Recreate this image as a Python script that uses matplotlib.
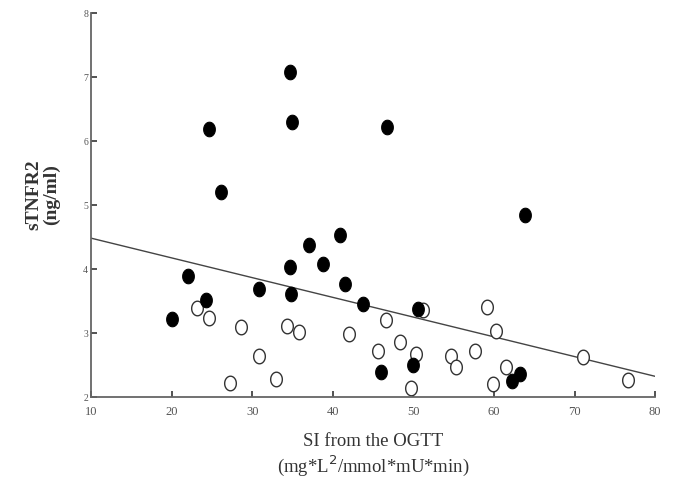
import numpy as np
import matplotlib
matplotlib.use("Agg")
import matplotlib.pyplot as plt
from matplotlib.path import Path

# Points pleins
filled_x = [20.1, 22.0, 24.7, 24.3, 26.1, 30.8, 34.7, 34.8, 34.7, 35.0, 37.1, 38.8,
            40.9, 41.5, 43.7, 46.7, 46.0, 50.0, 50.6, 62.2, 63.2, 63.8]
filled_y = [3.22, 3.89, 6.19, 3.52, 5.20, 3.69, 4.03, 3.61, 7.08, 6.30, 4.38, 4.08,
            4.53, 3.77, 3.45, 6.22, 2.39, 2.50, 3.38, 2.25, 2.36, 4.84]

# Points vides
open_x = [23.1, 24.7, 28.6, 30.8, 27.3, 32.9, 34.3, 35.8, 42.0, 45.6, 46.6, 48.4,
          50.3, 49.7, 51.2, 54.7, 55.3, 57.6, 59.1, 60.3, 61.5, 59.9, 71.0, 76.6]
open_y = [3.39, 3.23, 3.09, 2.64, 2.22, 2.28, 3.11, 3.02, 2.98, 2.72, 3.20, 2.86,
          2.67, 2.13, 3.35, 2.64, 2.47, 2.72, 3.41, 3.03, 2.47, 2.20, 2.62, 2.27]

# Droite de regression
fit_x = [10, 80]
fit_y = [4.48, 2.32]

xticks = [10, 20, 30, 40, 50, 60, 70, 80]
yticks = [2, 3, 4, 5, 6, 7, 8]

plt.rcParams['font.family'] = ['Liberation Serif', 'DejaVu Serif']

# marqueur elliptique (un peu plus haut que large)
t = np.linspace(0, 2*np.pi, 60)
ellipse = Path(np.column_stack([0.8*np.cos(t), np.sin(t)]), closed=True)

fig = plt.figure(figsize=(6.74, 4.81), dpi=100)
ax = fig.add_axes([0.135, 0.173, 0.837, 0.798])

ax.plot(fit_x, fit_y, color='#444444', lw=1.0, zorder=1)
ax.scatter(open_x, open_y, marker=ellipse, s=110, facecolors='white',
           edgecolors='#333333', linewidths=1.0, zorder=2)
ax.scatter(filled_x, filled_y, marker=ellipse, s=110, facecolors='black',
           edgecolors='black', linewidths=0.8, zorder=3)

ax.set_xlim(10, 80)
ax.set_ylim(2, 8)
ax.set_xticks(xticks)
ax.set_yticks(yticks)
ax.spines['top'].set_visible(False)
ax.spines['right'].set_visible(False)
for s in ['left', 'bottom']:
    ax.spines[s].set_color('#666666')
    ax.spines[s].set_linewidth(1.3)
ax.tick_params(axis='both', direction='in', length=4, width=1.3, color='#444444',
               labelcolor='#555555')
ax.tick_params(axis='x', labelsize=9, pad=6)
ax.tick_params(axis='y', labelsize=7, pad=2)

ax.set_xlabel("SI from the OGTT\n(mg*L$^2$/mmol*mU*min)", fontsize=13.5,
              color='#333333', linespacing=1.15)
ax.xaxis.set_label_coords(0.5, -0.093)
ax.set_ylabel("sTNFR2\n(ng/ml)", fontsize=14, fontweight='bold',
              color='#333333', linespacing=1.0)
ax.yaxis.set_label_coords(-0.055, 0.53)

plt.savefig("out.png", dpi=100)
